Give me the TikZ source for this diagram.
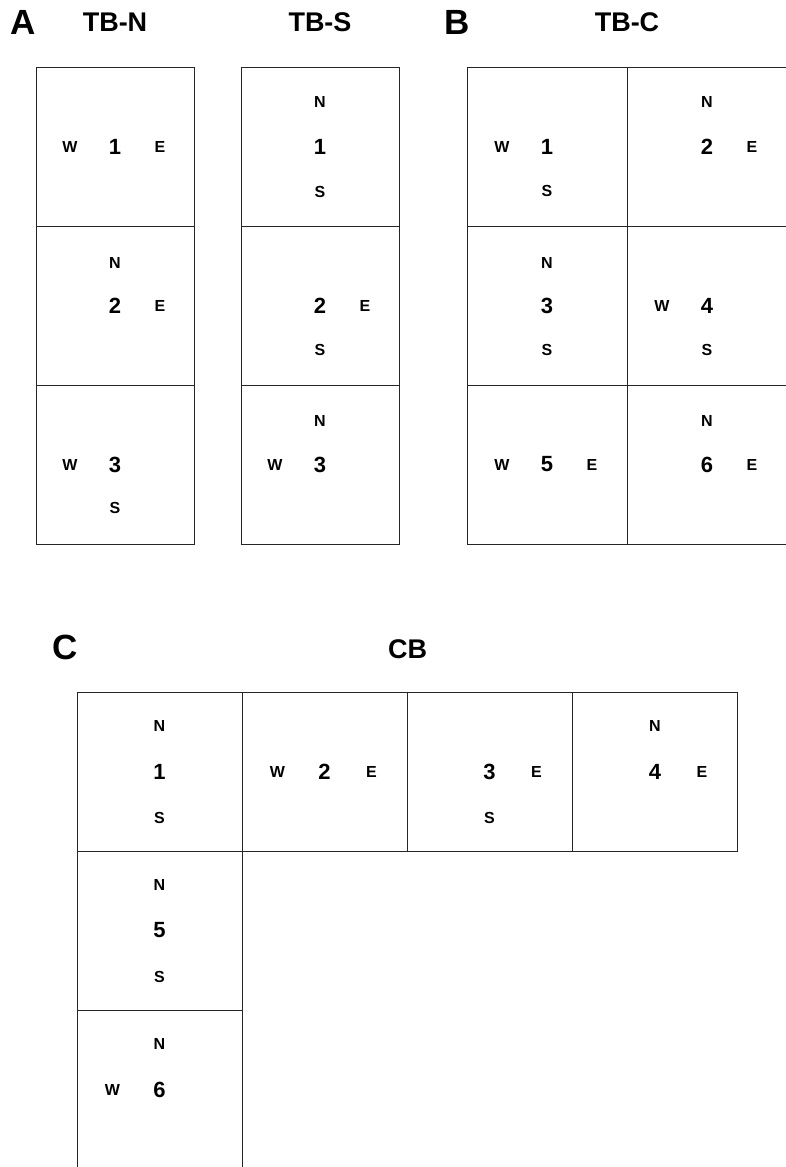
\documentclass[tikz,border=0pt]{standalone}
\usepackage{fontspec}
\setmainfont{Liberation Sans}
\begin{document}
\begin{tikzpicture}[x=1pt,y=-1pt,
  cellA/.style={draw=black!85,line width=1pt,minimum width=158pt,minimum height=159pt,inner sep=0pt},
  cellB/.style={draw=black!85,line width=1pt,minimum width=160pt,minimum height=159pt,inner sep=0pt},
  cellC/.style={draw=black!85,line width=1pt,minimum width=165pt,minimum height=159pt,inner sep=0pt},
  dig/.style={font=\fontsize{22}{22}\selectfont\bfseries,inner sep=0pt},
  dir/.style={font=\fontsize{16}{16}\selectfont\bfseries,inner sep=0pt},
  ttl/.style={font=\fontsize{27}{27}\selectfont\bfseries,inner sep=0pt},
  pan/.style={font=\fontsize{35}{35}\selectfont\bfseries,inner sep=0pt}]
\useasboundingbox (0,0) rectangle (785,1167);
% titles
\node[pan] (pA) at (23.5,22) {A};
\node[ttl] (tN) at (115,22) {TB-N};
\node[ttl] (tS) at (320,22) {TB-S};
\node[pan] (pB) at (457,22) {B};
\node[ttl] (tC) at (627,22) {TB-C};
\node[pan] (pC) at (65,647) {C};
\node[ttl] (tCB) at (407.5,649) {CB};
% TB-N
\node[cellA] (n1) at (115,146.5) {};
\node[cellA] (n2) at (115,305.5) {};
\node[cellA] (n3) at (115,464.5) {};
\node[dig] (n1d) at (n1.center) {1};
\node[dir] (n1w) at ([xshift=-45pt]n1.center) {W};
\node[dir] (n1e) at ([xshift=45pt]n1.center) {E};
\node[dig] (n2d) at (n2.center) {2};
\node[dir] (n2n) at ([yshift=43pt]n2.center) {N};
\node[dir] (n2e) at ([xshift=45pt]n2.center) {E};
\node[dig] (n3d) at (n3.center) {3};
\node[dir] (n3w) at ([xshift=-45pt]n3.center) {W};
\node[dir] (n3s) at ([yshift=-43pt]n3.center) {S};
% TB-S
\node[cellA] (s1) at (320,146.5) {};
\node[cellA] (s2) at (320,305.5) {};
\node[cellA] (s3) at (320,464.5) {};
\node[dig] (s1d) at (s1.center) {1};
\node[dir] (s1n) at ([yshift=45pt]s1.center) {N};
\node[dir] (s1s) at ([yshift=-45pt]s1.center) {S};
\node[dig] (s2d) at (s2.center) {2};
\node[dir] (s2e) at ([xshift=45pt]s2.center) {E};
\node[dir] (s2s) at ([yshift=-44pt]s2.center) {S};
\node[dig] (s3d) at (s3.center) {3};
\node[dir] (s3n) at ([yshift=44pt]s3.center) {N};
\node[dir] (s3w) at ([xshift=-45pt]s3.center) {W};
% TB-C
\node[cellB] (c1) at (547,146.5) {};
\node[cellB] (c2) at (707,146.5) {};
\node[cellB] (c3) at (547,305.5) {};
\node[cellB] (c4) at (707,305.5) {};
\node[cellB] (c5) at (547,464.5) {};
\node[cellB] (c6) at (707,464.5) {};
\node[dig] (c1d) at (c1.center) {1};
\node[dir] (c1w) at ([xshift=-45pt]c1.center) {W};
\node[dir] (c1s) at ([yshift=-44pt]c1.center) {S};
\node[dig] (c2d) at (c2.center) {2};
\node[dir] (c2n) at ([yshift=45pt]c2.center) {N};
\node[dir] (c2e) at ([xshift=45pt]c2.center) {E};
\node[dig] (c3d) at (c3.center) {3};
\node[dir] (c3n) at ([yshift=43pt]c3.center) {N};
\node[dir] (c3s) at ([yshift=-44pt]c3.center) {S};
\node[dig] (c4d) at (c4.center) {4};
\node[dir] (c4w) at ([xshift=-45pt]c4.center) {W};
\node[dir] (c4s) at ([yshift=-44pt]c4.center) {S};
\node[dig] (c5d) at (c5.center) {5};
\node[dir] (c5w) at ([xshift=-45pt]c5.center) {W};
\node[dir] (c5e) at ([xshift=45pt]c5.center) {E};
\node[dig] (c6d) at (c6.center) {6};
\node[dir] (c6n) at ([yshift=44pt]c6.center) {N};
\node[dir] (c6e) at ([xshift=45pt]c6.center) {E};
% CB
\node[cellC] (b1) at (159.5,771.5) {};
\node[cellC] (b2) at (324.5,771.5) {};
\node[cellC] (b3) at (489.5,771.5) {};
\node[cellC] (b4) at (655,771.5) {};
\node[cellC] (b5) at (159.5,930.5) {};
\node[cellC] (b6) at (159.5,1089.5) {};
\node[dig] (b1d) at (b1.center) {1};
\node[dir] (b1n) at ([yshift=46pt]b1.center) {N};
\node[dir] (b1s) at ([yshift=-46pt]b1.center) {S};
\node[dig] (b2d) at (b2.center) {2};
\node[dir] (b2w) at ([xshift=-47pt]b2.center) {W};
\node[dir] (b2e) at ([xshift=47pt]b2.center) {E};
\node[dig] (b3d) at (b3.center) {3};
\node[dir] (b3e) at ([xshift=47pt]b3.center) {E};
\node[dir] (b3s) at ([yshift=-46pt]b3.center) {S};
\node[dig] (b4d) at (b4.center) {4};
\node[dir] (b4n) at ([yshift=46pt]b4.center) {N};
\node[dir] (b4e) at ([xshift=47pt]b4.center) {E};
\node[dig] (b5d) at (b5.center) {5};
\node[dir] (b5n) at ([yshift=46pt]b5.center) {N};
\node[dir] (b5s) at ([yshift=-46pt]b5.center) {S};
\node[dig] (b6d) at (b6.center) {6};
\node[dir] (b6n) at ([yshift=46pt]b6.center) {N};
\node[dir] (b6w) at ([xshift=-47pt]b6.center) {W};
\end{tikzpicture}
\end{document}
